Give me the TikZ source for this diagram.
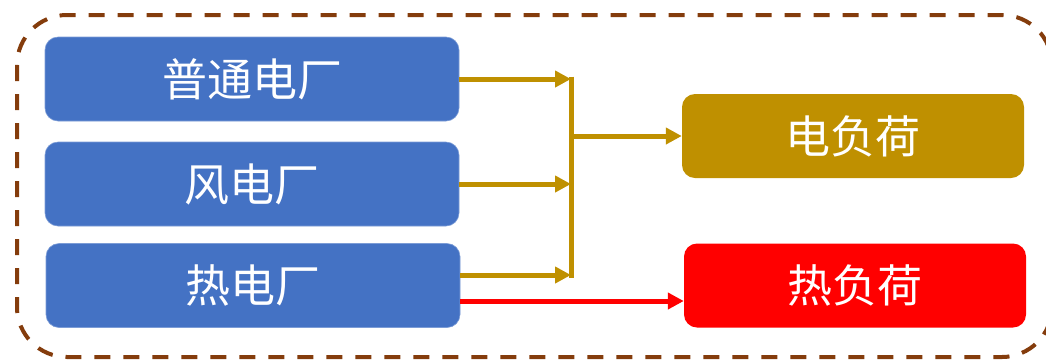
\documentclass[tikz,border=0pt]{standalone}
\usepackage{fontspec}
\newfontfamily\cjk{Noto Sans CJK SC}
\usetikzlibrary{arrows.meta}
\definecolor{plantblue}{HTML}{4472C4}
\definecolor{elecgold}{HTML}{BF9000}
\definecolor{heatred}{HTML}{FF0000}
\definecolor{frame}{HTML}{843C0C}
\tikzset{
  plant/.style={draw=plantblue!70!white, line width=0.6pt, fill=plantblue, rounded corners=13pt,
    minimum width=414pt, minimum height=84pt, text=white, inner sep=0pt,
    font=\cjk\fontsize{45}{50}\selectfont},
  load/.style={rounded corners=13pt, minimum width=342pt, minimum height=84pt, inner sep=0pt,
    text=white, font=\cjk\fontsize{45}{50}\selectfont},
  feed/.style={line width=5pt, -{Triangle[length=16pt,width=16pt]}},
}
\begin{document}
\begin{tikzpicture}[x=1pt,y=-1pt]
  \useasboundingbox (0,0) rectangle (1046,360);
  \begin{scope}
    \clip (0,0) rectangle (1046,360);
    \draw[frame, line width=4pt, dash pattern=on 16pt off 13pt, rounded corners=50pt]
      (17,15) rectangle (1052,357);
  \end{scope}

  \node[plant] (pp) at (252,79) {普通电厂};
  \node[plant] (wp) at (252,184) {风电厂};
  \node[plant] (hp) at (253,285.5) {热电厂};

  \node[load, fill=elecgold] (el) at (853,136) {电负荷};
  \node[load, fill=heatred] (hl) at (855,285.5) {热负荷};

  \coordinate (bt) at (571,79);
  \coordinate (bb) at (571,275);
  \coordinate (bm) at (571,136);

  % collecting bar: reaches the outer edges of the top and bottom feeds
  \draw[elecgold, line width=5pt] ([yshift=2.5pt]bt) -- ([yshift=-2.5pt]bb);
  \draw[elecgold, feed] (pp.east |- bt) -- (bt);
  \draw[elecgold, feed] (wp.east) -- (571,184);
  \draw[elecgold, feed] (hp.east |- bb) -- (bb);
  \draw[elecgold, feed] (bm) -- (el.west);
  \draw[heatred, feed] (hp.east |- 0,301) -- (hl.west |- 0,301);
\end{tikzpicture}
\end{document}
